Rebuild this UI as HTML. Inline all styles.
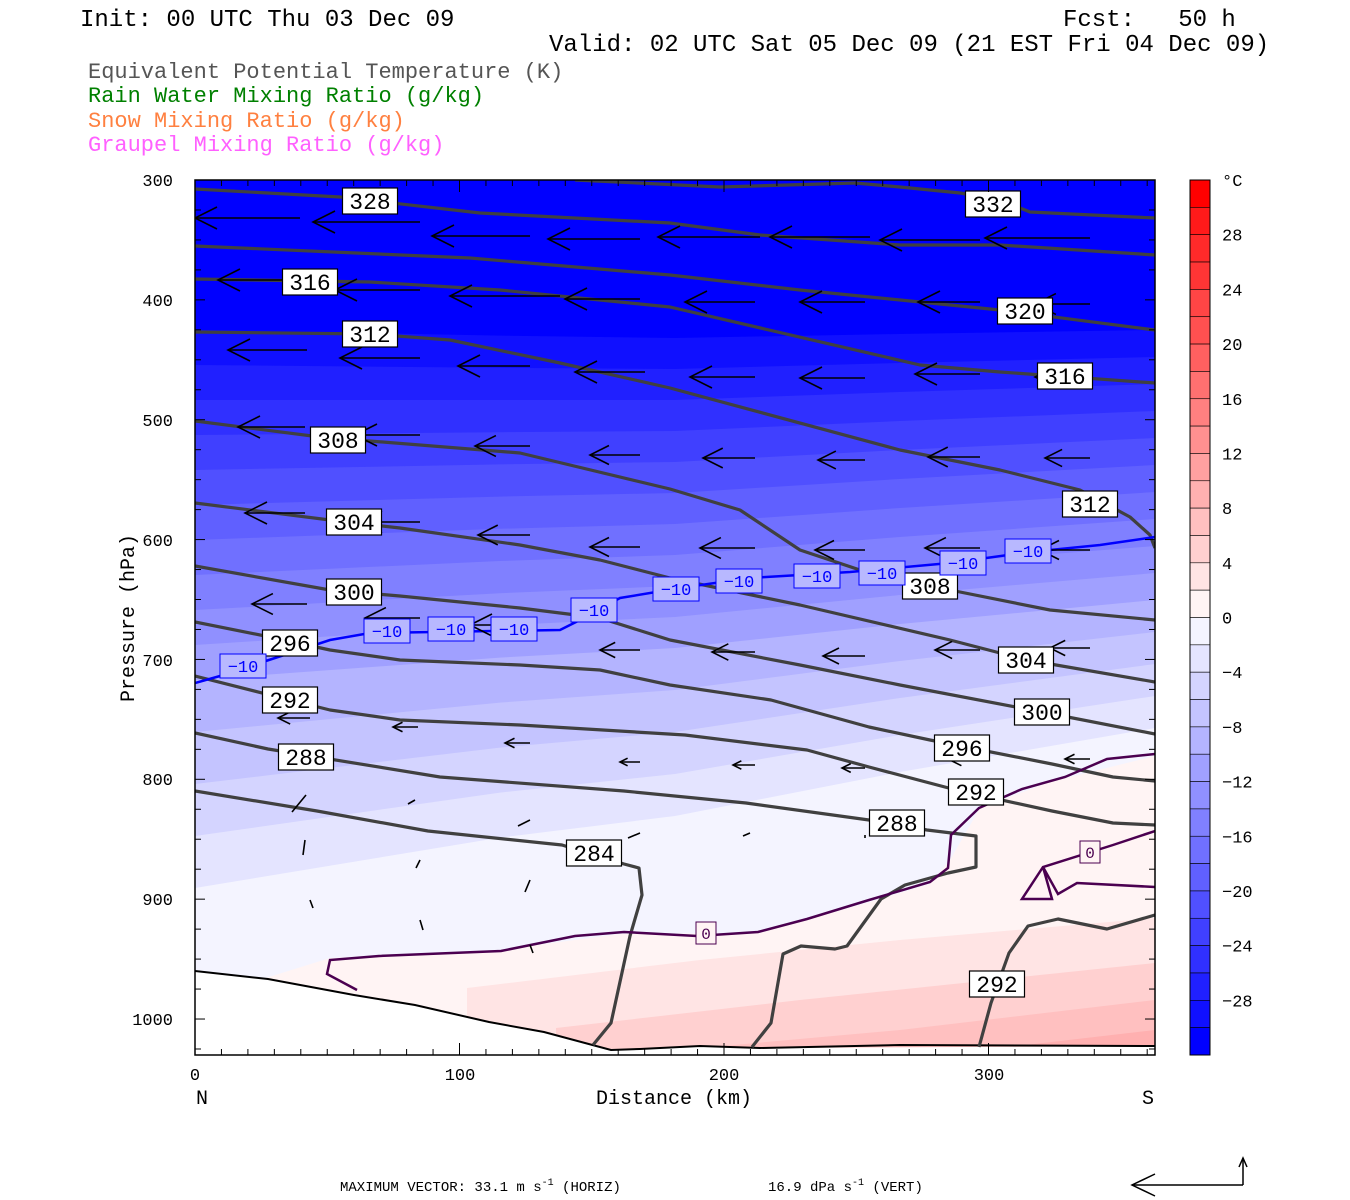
<!DOCTYPE html>
<html><head><meta charset="utf-8"><style>
html,body{margin:0;padding:0;background:#fff;width:1350px;height:1200px;overflow:hidden}
svg{display:block}
.m{font-family:"Liberation Mono",monospace}
</style></head><body>
<svg id="s" width="1350" height="1200" xmlns="http://www.w3.org/2000/svg">
<g class="m" font-size="24" fill="#000">
<text x="80" y="26">Init: 00 UTC Thu 03 Dec 09</text>
<text x="1063" y="26">Fcst:&#160;&#160;&#160;50 h</text>
<text x="549" y="51">Valid: 02 UTC Sat 05 Dec 09 (21 EST Fri 04 Dec 09)</text>
</g>
<g class="m" font-size="22">
<text x="88" y="78" fill="#555555">Equivalent Potential Temperature (K)</text>
<text x="88" y="102" fill="#008000">Rain Water Mixing Ratio (g/kg)</text>
<text x="88" y="127" fill="#ff8040">Snow Mixing Ratio (g/kg)</text>
<text x="88" y="151" fill="#ff60ff">Graupel Mixing Ratio (g/kg)</text>
</g>
<defs><clipPath id="pc"><rect x="195" y="180" width="960" height="875"/></clipPath></defs>
<g id="bands" clip-path="url(#pc)"><rect x="195" y="180" width="960" height="875" fill="#0000ff"/></g>
<g id="cb"></g>
<g id="over" clip-path="url(#pc)"></g>
<rect x="195" y="180" width="960" height="875" fill="none" stroke="#000" stroke-width="1.5"/>
<g id="ticks"></g>
<g class="m" font-size="17" text-anchor="end">
<text x="173" y="186">300</text><text x="173" y="306">400</text><text x="173" y="426">500</text>
<text x="173" y="546">600</text><text x="173" y="666">700</text><text x="173" y="785">800</text>
<text x="173" y="905">900</text><text x="173" y="1025">1000</text>
</g>
<g class="m" font-size="17" text-anchor="middle">
<text x="195" y="1080">0</text><text x="460" y="1080">100</text><text x="724" y="1080">200</text><text x="989" y="1080">300</text>
</g>
<g class="m" font-size="20">
<text x="202" y="1104" text-anchor="middle">N</text>
<text x="1148" y="1104" text-anchor="middle">S</text>
<text x="674" y="1104" text-anchor="middle">Distance (km)</text>
<text transform="translate(134,618) rotate(-90)" text-anchor="middle">Pressure (hPa)</text>
</g>
<g class="m" font-size="17" id="cbl"></g>
<text x="340" y="1191" font-family="Liberation Mono,monospace" font-size="14">MAXIMUM VECTOR:  33.1 m s<tspan dy="-6" font-size="10">-1</tspan><tspan dy="6"> (HORIZ)</tspan></text>
<text x="768" y="1191" font-family="Liberation Mono,monospace" font-size="14">16.9 dPa s<tspan dy="-6" font-size="10">-1</tspan><tspan dy="6"> (VERT)</tspan></text>
<g stroke="#000" stroke-width="1.5" fill="none">
<polyline points="1243,1185 1132,1185"/><polyline points="1155,1174 1132,1185 1155,1196"/>
<polyline points="1243,1185 1243,1158"/><polyline points="1239,1167 1243,1158 1247,1167"/>
</g>
</svg>
<script>
var NS="http://www.w3.org/2000/svg";
function el(p,t,a){var e=document.createElementNS(NS,t);for(var k in a)e.setAttribute(k,a[k]);p.appendChild(e);return e;}
var cols=["#ff0000","#ff1a1a","#ff2a2a","#ff3535","#ff4545","#ff5050","#ff6060","#ff7070","#ff8080","#ff9090","#ffa0a0","#ffb0b0","#ffc0c0","#ffd0d0","#ffe4e4","#fff4f4","#f4f4ff","#e4e4ff","#d4d4ff","#c4c4ff","#b4b4ff","#a0a0ff","#9090ff","#8080ff","#7070ff","#6060ff","#5050ff","#4040ff","#3030ff","#2020ff","#1010ff","#0000ff"];
var cb=document.getElementById("cb"),bh=875/32;
for(var i=0;i<32;i++)el(cb,"rect",{x:1190,y:180+i*bh,width:20,height:bh,fill:cols[i],stroke:"#000","stroke-width":0.6});
el(cb,"rect",{x:1190,y:180,width:20,height:875,fill:"none",stroke:"#000","stroke-width":1});
var cbl=document.getElementById("cbl");
var lt=el(cbl,"text",{x:1222,y:186});lt.textContent="°C";
for(var T=28;T>=-28;T-=4){var y=180+(32-T)/2*bh;var t=el(cbl,"text",{x:1222,y:y+6});t.textContent=(T<0?"\u2212"+(-T):""+T);}
function yL(T){if(T<=-10)return 680+(T+10)*17.5;return 680+(T+10)*26;}
function yR(T){if(T<=-10)return 600+(T+10)*13.5;return 600+(T+10)*16;}
function col(T){return cols[(32-(T+2))/2|0];}
var bg=document.getElementById("bands");
for(var T=-30;T<=-2;T+=2){
 var a=yL(T),b=yR(T),m=(a+b)/2+8;
 el(bg,"polygon",{points:"195,"+a+" 500,"+(a+(m-a)*0.7)+" 675,"+m+" 900,"+(b+(m-b)*0.5)+" 1155,"+b+" 1155,1055 195,1055",fill:col(T)});
}
var pos=[[0,"195,1000 330,958 500,950 620,934 760,933 870,902 930,884 950,860 980,808 1050,782 1155,756"],
[2,"467,1055 467,988 700,960 900,940 1155,918"],
[4,"556,1055 556,1028 800,1000 1155,963"],
[6,"700,1055 700,1048 900,1030 1155,1000"],
[8,"1000,1055 1000,1048 1155,1030"]];
pos.forEach(function(p){var pts=p[1].split(" ");var first=pts[0].split(",")[0];el(bg,"polygon",{points:p[1]+" 1155,1055 "+first+",1055",fill:col(p[0])});});
var ov=document.getElementById("over");
el(ov,"polygon",{points:"195,971 268,979 354,995 415,1005 489,1022 544,1032 611,1050 700,1046 760,1048 1155,1046 1155,1056 195,1056",fill:"#fff"});
el(ov,"polyline",{points:"195,971 268,979 354,995 415,1005 489,1022 544,1032 611,1050 640,1049 700,1046 760,1048 900,1045 1155,1046",fill:"none",stroke:"#000","stroke-width":2});
var th=[
"195,189 340,197 480,213 670,223 760,235 900,245 1000,245 1155,255",
"575,180 720,187 855,183 900,187 960,193 1000,200 1030,212 1155,218",
"195,246 470,258 670,275 800,290 1000,310 1155,330",
"195,279 370,282 500,290 670,307 920,365 1000,372 1155,383",
"195,332 370,334 450,340 560,363 670,388 900,450 1000,470 1080,490 1130,517 1150,535 1155,548",
"195,421 320,437 520,453 670,489 740,510 800,550 860,570 950,590 1050,610 1155,620",
"195,503 330,520 400,528 520,545 600,560 670,578 800,605 950,640 1027,660 1155,682",
"195,566 330,590 400,596 520,608 600,618 670,640 800,665 900,685 1042,712 1155,734",
"195,622 270,637 330,650 400,660 520,665 600,670 670,685 771,700 869,727 930,740 1052,764 1113,777 1155,781",
"195,676 270,695 330,710 400,720 520,725 685,735 807,750 869,767 960,791 1052,811 1113,823 1155,825",
"195,733 268,749 440,777 624,791 746,803 869,820 927,830 976,836 976,867 948,873 905,885 881,899 847,946 835,949 801,946 783,954 771,1023 752,1047",
"195,791 317,811 428,831 562,845 624,864 639,868 642,895 630,936 611,1023 593,1045",
"979,1047 991,1003 1009,953 1028,926 1058,919 1107,929 1155,915"];
th.forEach(function(p){el(ov,"polyline",{points:p,fill:"none",stroke:"#404040","stroke-width":3.2,"stroke-linejoin":"round"});});
el(ov,"polyline",{points:"357,990 327,974 330,960 379,956 501,951 575,936 624,932 697,936 758,932 807,919 869,900 930,882 948,868 951,835 979,808 1022,789 1065,777 1107,759 1155,754",fill:"none",stroke:"#4b0050","stroke-width":2.5});
el(ov,"polyline",{points:"1155,831 1113,845 1043,867 1022,899 1052,899 1043,867 1058,894 1077,883 1155,887",fill:"none",stroke:"#4b0050","stroke-width":2.5});
el(ov,"polyline",{points:"195,683 220,676 330,640 370,633 560,630 580,620 620,598 680,588 750,578 850,572 950,563 1030,552 1100,545 1155,537",fill:"none",stroke:"#0000ff","stroke-width":2.5});
var ar=[[300,195,218],[420,313,222],[530,432,236],[640,548,239],[760,658,237],[870,770,237],[980,880,240],[1090,985,238],
[310,218,280],[420,335,290],[560,450,296],[640,565,299],[755,685,302],[865,800,302],[980,918,302],[1090,1035,304],
[307,228,350],[420,340,358],[530,458,366],[645,575,372],[755,690,377],[865,800,378],[980,915,374],[1090,1035,377],
[305,238,427],[420,355,435],[530,475,446],[640,590,455],[755,703,458],[865,818,460],[980,928,457],[1090,1045,458],
[305,245,513],[420,360,522],[530,478,535],[640,590,547],[755,700,548],[865,815,550],[980,925,548],[1090,1040,550],
[307,252,604],[420,365,618],[530,470,625],[640,600,650],[755,712,652],[865,823,656],[980,935,650],[1090,1050,648],
[310,278,718],[418,393,727],[530,505,743],[640,620,762],[755,733,765],[865,842,768],[980,950,760],[1090,1065,759]];
var g=el(ov,"g",{stroke:"#000","stroke-width":1.6,fill:"none"});
ar.forEach(function(a){var x1=a[0],x2=a[1],y=a[2];var L=x1-x2,h=Math.min(22,L*0.38);
 el(g,"line",{x1:x1,y1:y,x2:x2,y2:y});el(g,"polyline",{points:(x2+h)+","+(y-h*0.5)+" "+x2+","+y+" "+(x2+h)+","+(y+h*0.5)});});
[[306,795,292,812],[305,840,303,855],[415,800,408,804],[420,860,416,868],[530,820,518,826],[530,880,525,892],[310,900,313,908],[420,920,423,930],[530,945,533,953],[640,833,628,838],[750,833,743,836],[865,835,865,838]].forEach(function(a){el(g,"line",{x1:a[0],y1:a[1],x2:a[2],y2:a[3]});});
function lab(x,y,t,w){el(ov,"rect",{x:x-w/2,y:y-13,width:w,height:26,fill:"#fff",stroke:"#000","stroke-width":1.2});var e=el(ov,"text",{x:x,y:y+8,"text-anchor":"middle","font-family":"Liberation Mono,monospace","font-size":23});e.textContent=t;}
[[370,201,"328"],[310,282,"316"],[370,334,"312"],[338,440,"308"],[354,522,"304"],[354,592,"300"],[290,643,"296"],[290,700,"292"],[306,757,"288"],[594,853,"284"],
[993,204,"332"],[1025,311,"320"],[1065,376,"316"],[1090,504,"312"],[930,586,"308"],[1026,660,"304"],[1042,712,"300"],[962,748,"296"],[976,792,"292"],[897,823,"288"],[997,984,"292"]].forEach(function(a){lab(a[0],a[1],a[2],55);});
function lab2(x,y){el(ov,"rect",{x:x-23,y:y-12,width:46,height:24,fill:"#b8b8ff",stroke:"#0000ff","stroke-width":1});var e=el(ov,"text",{x:x,y:y+6,"text-anchor":"middle","font-family":"Liberation Mono,monospace","font-size":17,fill:"#0000ff"});e.textContent="\u221210";}
[[243,666],[387,631],[451,629],[514,629],[594,610],[676,589],[739,581],[817,576],[882,573],[963,563],[1028,551]].forEach(function(a){lab2(a[0],a[1]);});
function lab0(x,y){el(ov,"rect",{x:x-10,y:y-11,width:20,height:22,fill:"#fff4f4",stroke:"#4b0050","stroke-width":1});var e=el(ov,"text",{x:x,y:y+6,"text-anchor":"middle","font-family":"Liberation Mono,monospace","font-size":16,fill:"#4b0050"});e.textContent="0";}
lab0(706,933);lab0(1090,852);
var tk=document.getElementById("ticks");
for(var p=300;p<=1025;p+=25){var y=180+(p-300)*1.1986;el(tk,"line",{x1:195,y1:y,x2:(p%100==0?205:201),y2:y,stroke:"#000","stroke-width":1});el(tk,"line",{x1:1155,y1:y,x2:(p%100==0?1145:1149),y2:y,stroke:"#000","stroke-width":1});}
for(var d=0;d<=360;d+=10){var x=195+d*2.645;el(tk,"line",{x1:x,y1:1055,x2:x,y2:(d%100==0?1043:1049),stroke:"#000","stroke-width":1});el(tk,"line",{x1:x,y1:180,x2:x,y2:(d%100==0?192:186),stroke:"#000","stroke-width":1});}
</script>
</body></html>
